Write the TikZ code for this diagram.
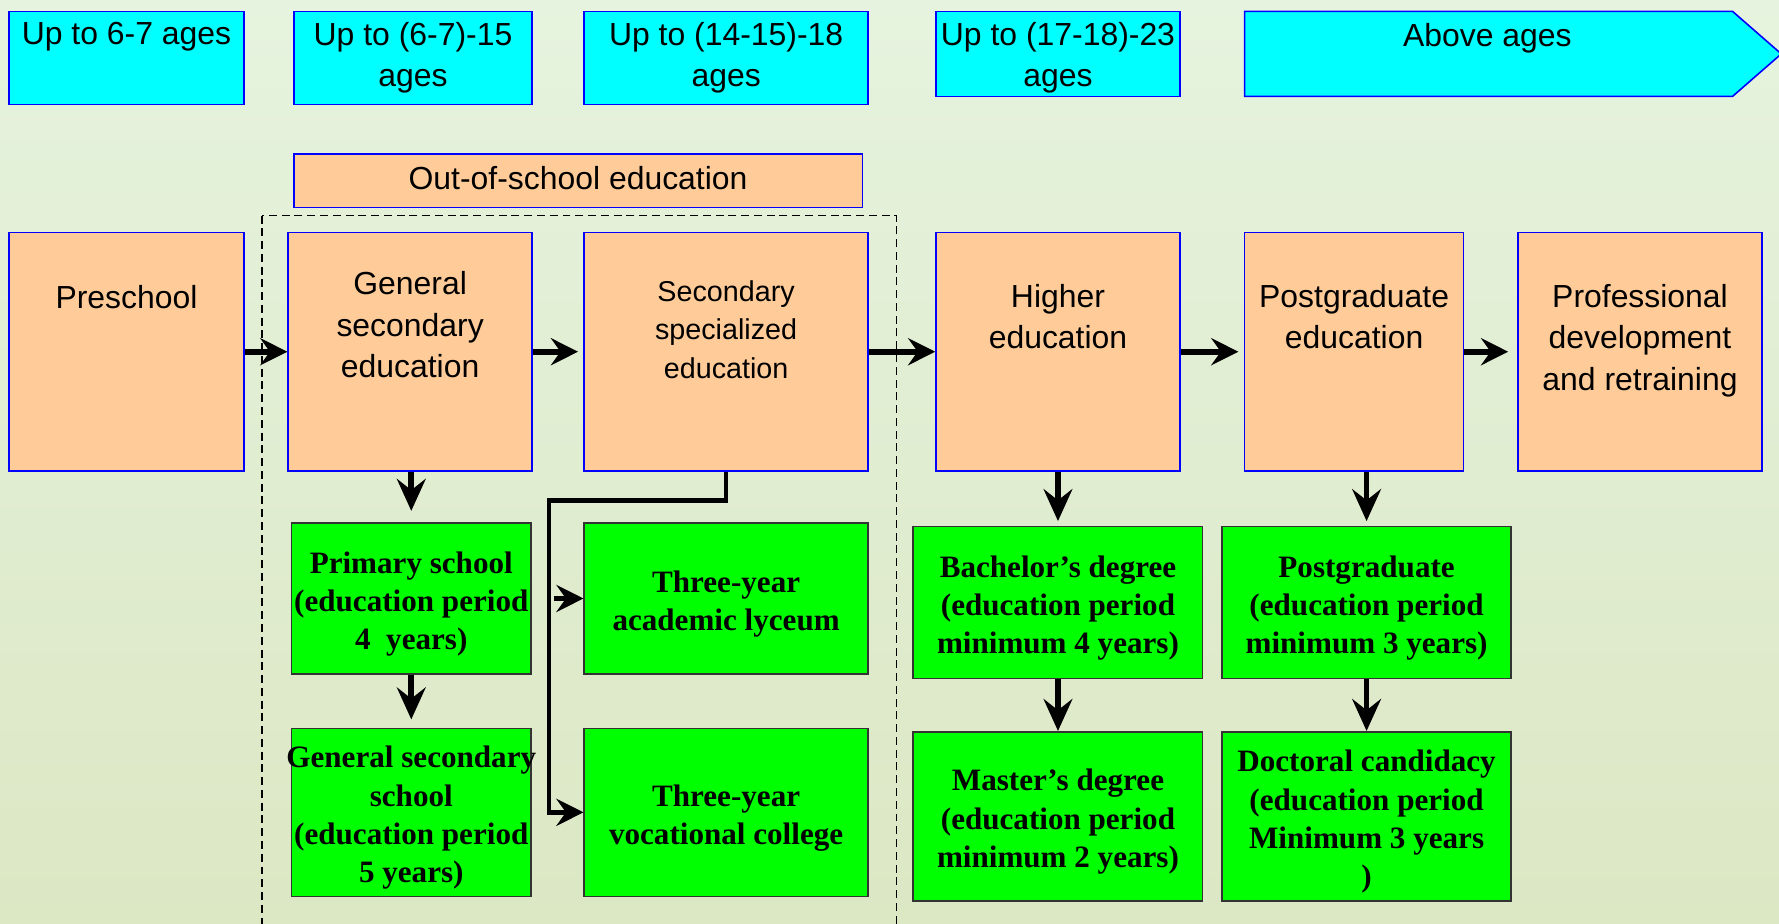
\documentclass[tikz,border=0pt]{standalone}
\usepackage{fontspec}
\setmainfont{Liberation Serif}
\setsansfont{Liberation Sans}
\usetikzlibrary{arrows.meta}

\definecolor{agecyan}{RGB}{0,255,255}
\definecolor{peach}{RGB}{255,204,153}
\definecolor{lime}{RGB}{0,255,0}
\definecolor{bgtop}{RGB}{230,243,222}
\definecolor{bgbot}{RGB}{220,231,196}

\tikzset{
  agebox/.style={draw=blue, fill=agecyan, line width=1pt, minimum height=2.05cm, inner sep=0pt},
  stagebox/.style={draw=blue, fill=peach, line width=1pt, minimum height=5.25cm, inner sep=0pt},
  degbox/.style={draw=black!80, fill=lime, line width=1pt, inner sep=0pt},
  sanstxt/.style={anchor=north, align=center, inner sep=0pt, font=\sffamily\fontsize{20}{26}\selectfont},
  degtxt/.style={anchor=center, align=center, inner sep=0pt, yshift=-0.12cm, font=\bfseries\fontsize{19.5}{24}\selectfont},
  toptext/.style 2 args={label={[sanstxt, yshift=#1]north:#2}},
  midtext/.style={label={[degtxt]center:#1}},
  hflow/.style={line width=4pt, -{Stealth[length=17pt, width=17pt, inset=6pt]}},
  vflow/.style={line width=3.6pt, -{Stealth[length=20pt, width=18pt, inset=7pt]}},
  branch/.style={line width=2.8pt, -{Stealth[length=17pt, width=17pt, inset=6pt]}},
}

\begin{document}
\begin{tikzpicture}[x=0.025cm, y=-0.025cm]
  \shade[top color=bgtop, bottom color=bgbot] (0,0) rectangle (1568,814);
  \useasboundingbox (0,0) rectangle (1568,814);

  % age bands
  \node[agebox, minimum width=5.175cm, toptext={-0.25cm}{Up to 6-7 ages}] (age1) at (111.5,51) {};
  \node[agebox, minimum width=5.25cm, toptext={-0.25cm}{Up to (6-7)-15\\ages}] (age2) at (364,51) {};
  \node[agebox, minimum width=6.25cm, toptext={-0.25cm}{Up to (14-15)-18\\ages}] (age3) at (640,51) {};
  \node[agebox, minimum width=5.375cm, minimum height=1.875cm, toptext={-0.25cm}{Up to (17-18)-23\\ages}] (age4) at (932.5,47.5) {};
  \draw[draw=blue, fill=agecyan, line width=1pt] (1097,10) -- (1527,10) -- (1570,47.5) -- (1527,85) -- (1097,85) -- cycle;
  \node[sanstxt] (age5) at (1311,20) {Above ages};

  \node[stagebox, minimum width=12.525cm, minimum height=1.175cm, text depth=0.15cm, font=\sffamily\fontsize{20}{26}\selectfont] (oos) at (509.5,159.5) {Out-of-school education};
  \draw[dashed, line width=0.8pt, dash pattern=on 5pt off 3pt] (231,190) rectangle (790,830);

  % stages
  \node[stagebox, minimum width=5.175cm, toptext={-1.175cm}{Preschool}] (pre) at (111.5,310) {};
  \node[stagebox, minimum width=5.375cm, toptext={-0.875cm}{General\\secondary\\education}] (gse) at (361.5,310) {};
  \node[stagebox, minimum width=6.25cm, label={[sanstxt, font=\sffamily\fontsize{18}{24}\selectfont, yshift=-1.075cm]north:Secondary\\specialized\\education}] (sse) at (640,310) {};
  \node[stagebox, minimum width=5.375cm, toptext={-1.15cm}{Higher\\education}] (high) at (932.5,310) {};
  \node[stagebox, minimum width=4.825cm, toptext={-1.15cm}{Postgraduate\\education}] (post) at (1193.5,310) {};
  \node[stagebox, minimum width=5.375cm, toptext={-1.15cm}{Professional\\development\\and retraining}] (prof) at (1445.5,310) {};

  % degrees
  \node[degbox, minimum width=5.275cm, minimum height=3.325cm, midtext={Primary school\\(education period\\4\ \ years)}] (prim) at (362.5,527.5) {};
  \node[degbox, minimum width=5.275cm, minimum height=3.7cm, midtext={General secondary\\school\\(education period\\5 years)}] (gss) at (362.5,716) {};
  \node[degbox, minimum width=6.25cm, minimum height=3.325cm, midtext={Three-year\\academic lyceum}] (lyc) at (640,527.5) {};
  \node[degbox, minimum width=6.25cm, minimum height=3.7cm, midtext={Three-year\\vocational college}] (voc) at (640,716) {};
  \node[degbox, minimum width=6.375cm, minimum height=3.35cm, midtext={Bachelor’s degree\\(education period\\minimum 4 years)}] (bach) at (932.5,531) {};
  \node[degbox, minimum width=6.375cm, minimum height=3.725cm, midtext={Master’s degree\\(education period\\minimum 2 years)}] (mast) at (932.5,719.5) {};
  \node[degbox, minimum width=6.375cm, minimum height=3.35cm, midtext={Postgraduate\\(education period\\minimum 3 years)}] (pgr) at (1204.5,531) {};
  \node[degbox, minimum width=6.375cm, minimum height=3.725cm, midtext={Doctoral candidacy\\(education period\\Minimum 3 years\\)}] (doc) at (1204.5,719.5) {};

  % arrows
  \draw[hflow] (pre) -- (gse);
  \draw[hflow, shorten >=0.12cm] (gse) -- (sse);
  \draw[hflow] (sse) -- (high);
  \draw[hflow, shorten >=0.12cm] (high) -- (post);
  \draw[hflow, shorten >=0.2cm] (post) -- (prof);

  \draw[vflow, shorten >=0.25cm] (gse.south -| prim.north) -- (prim.north);
  \draw[vflow, shorten >=0.18cm] (prim) -- (gss);
  \draw[vflow, shorten >=0.1cm] (high) -- (bach);
  \draw[vflow] (bach) -- (mast);
  \draw[vflow, shorten >=0.1cm] (post.south -| pgr.north) -- (pgr.north);
  \draw[vflow] (pgr) -- (doc);

  \coordinate (split) at (484,441);
  \draw[branch] (sse.south) |- (split) |- (voc.west);
  \draw[branch] ([xshift=0.1cm]split |- lyc.west) -- (lyc.west);
\end{tikzpicture}
\end{document}
